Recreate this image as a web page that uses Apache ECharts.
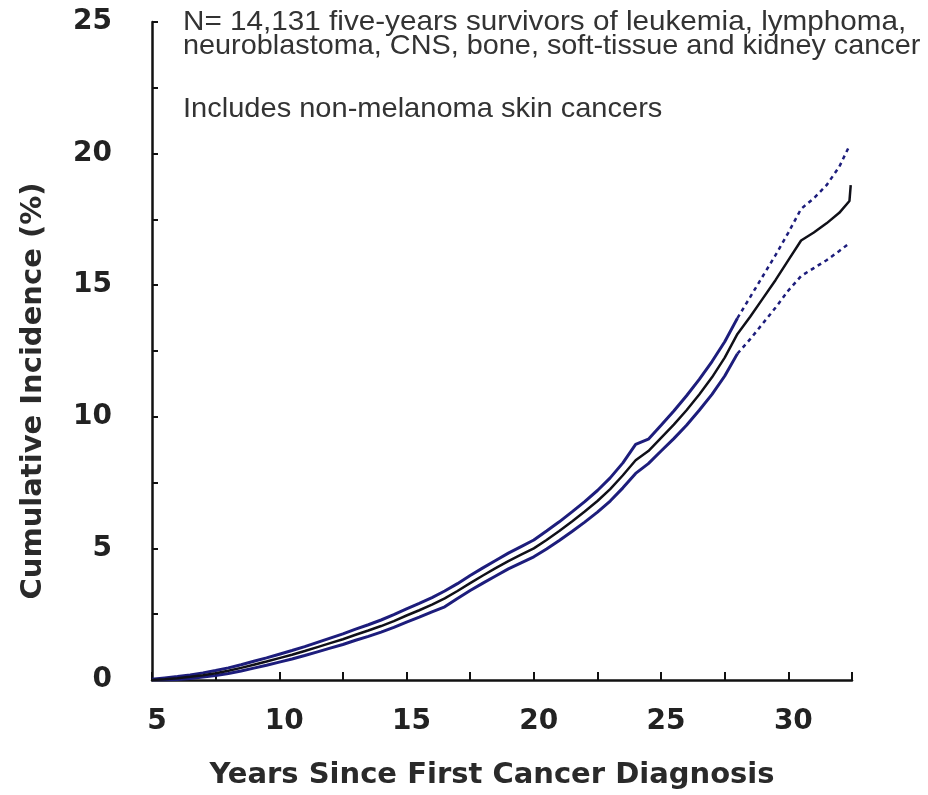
<!DOCTYPE html>
<html>
<head>
<meta charset="utf-8">
<title>Cumulative incidence of second cancers</title>
<script src="https://cdn.jsdelivr.net/npm/echarts@6/dist/echarts.min.js"></script>
<style>
  html, body { margin: 0; padding: 0; background: #ffffff; }
  #chart { width: 928px; height: 795px; }
</style>
</head>
<body>
<div id="chart"></div>
<script>
// Years since first cancer diagnosis
const years = [5, 5.5, 6, 6.5, 7, 7.5, 8, 8.5, 9, 9.5, 10, 10.5, 11, 11.5, 12, 12.5, 13, 13.5, 14, 14.5,
  15, 15.5, 16, 16.5, 17, 17.5, 18, 18.5, 19, 19.5, 20, 20.5, 21, 21.5, 22, 22.5, 23, 23.5, 24, 24.5,
  25, 25.5, 26, 26.5, 27, 27.5, 28, 28.5, 29, 29.5, 30, 30.5, 31, 31.5, 32, 32.4, 32.45];

// Cumulative incidence estimate (%)
const estimate = [0.0, 0.03, 0.07, 0.12, 0.18, 0.26, 0.35, 0.46, 0.58, 0.70, 0.83, 0.96, 1.10, 1.25, 1.40, 1.55, 1.72, 1.88, 2.05, 2.24,
  2.45, 2.65, 2.86, 3.10, 3.38, 3.68, 3.97, 4.25, 4.52, 4.76, 5.00, 5.32, 5.66, 6.02, 6.40, 6.80, 7.25, 7.78, 8.35, 8.70,
  9.20, 9.70, 10.25, 10.85, 11.50, 12.25, 13.15, 13.80, 14.50, 15.20, 15.95, 16.70, 17.00, 17.35, 17.75, 18.20, 18.80];

// Upper 95% confidence limit (%)
const upper = [0.03, 0.08, 0.13, 0.19, 0.27, 0.36, 0.46, 0.58, 0.71, 0.84, 0.98, 1.12, 1.27, 1.43, 1.59, 1.75, 1.93, 2.10, 2.28, 2.48,
  2.70, 2.91, 3.13, 3.38, 3.66, 3.97, 4.26, 4.54, 4.82, 5.07, 5.32, 5.66, 6.01, 6.39, 6.78, 7.20, 7.68, 8.25, 8.95, 9.15,
  9.68, 10.22, 10.80, 11.42, 12.10, 12.85, 13.75, 14.55, 15.35, 16.15, 17.00, 17.90, 18.30, 18.80, 19.50, 20.30, null];

// Lower 95% confidence limit (%)
const lower = [0.0, 0.0, 0.02, 0.06, 0.11, 0.17, 0.25, 0.34, 0.45, 0.56, 0.68, 0.80, 0.93, 1.07, 1.21, 1.35, 1.51, 1.66, 1.82, 2.00,
  2.20, 2.39, 2.59, 2.78, 3.10, 3.40, 3.68, 3.95, 4.22, 4.45, 4.68, 4.98, 5.30, 5.64, 6.00, 6.38, 6.80, 7.30, 7.85, 8.22,
  8.70, 9.17, 9.68, 10.25, 10.85, 11.55, 12.40, 12.95, 13.55, 14.15, 14.80, 15.35, 15.65, 15.95, 16.30, 16.60, null];

// Confidence limits turn dotted from this year on
const dottedFrom = 28;

const xTickStep = 2.5;
const yTickStep = 2.5;

const noteLines = [
  'N= 14,131 five-years survivors of leukemia, lymphoma,',
  'neuroblastoma, CNS, bone, soft-tissue and kidney cancer',
  'Includes non-melanoma skin cancers'
];
const xTitle = 'Years Since First Cancer Diagnosis';
const yTitle = 'Cumulative Incidence (%)';

function pairs(values, from, to) {
  const out = [];
  years.forEach((y, i) => {
    if (values[i] == null) return;
    if (y >= from && y <= to) out.push([y, values[i]]);
  });
  return out;
}

const navy = '#1d1d7c';
const tickLabel = {
  fontFamily: 'DejaVu Sans', fontWeight: 'bold', fontSize: 28, color: '#222222',
  formatter: v => (Math.abs(v % 5) < 1e-9 ? String(v) : '')
};
const noteFont = '28px "Liberation Sans"';

// Note block: one text element per line, slightly widened
function note(text, y, stretch) {
  return { type: 'text', x: 183, y: y, scaleX: stretch,
    style: { text: text, font: noteFont, fill: '#333333', align: 'left', verticalAlign: 'middle' } };
}

const chart = echarts.init(document.getElementById('chart'), null, { renderer: 'canvas' });

chart.setOption({
  backgroundColor: '#ffffff',
  animation: false,
  grid: { left: 152, right: 76, top: 22, bottom: 115, containLabel: false },
  xAxis: {
    type: 'value', min: 5, max: 32.5, interval: xTickStep,
    axisLine: { show: true, lineStyle: { color: '#111', width: 2.5 } },
    axisTick: { show: true, inside: true, length: 8, lineStyle: { color: '#111', width: 2 } },
    axisLabel: Object.assign({ margin: 28, padding: [0, 0, 0, 10] }, tickLabel),
    splitLine: { show: false }
  },
  yAxis: {
    type: 'value', min: 0, max: 25, interval: yTickStep,
    axisLine: { show: true, lineStyle: { color: '#111', width: 2.5 } },
    axisTick: { show: true, inside: true, length: 6, lineStyle: { color: '#111', width: 2 } },
    axisLabel: Object.assign({ margin: 40 }, tickLabel),
    splitLine: { show: false }
  },
  series: [
    { type: 'line', data: pairs(upper, 0, dottedFrom), showSymbol: false, z: 2,
      lineStyle: { color: navy, width: 3 } },
    { type: 'line', data: pairs(upper, dottedFrom, 99), showSymbol: false, z: 2,
      lineStyle: { color: navy, width: 2.5, type: [4, 4] } },
    { type: 'line', data: pairs(lower, 0, dottedFrom), showSymbol: false, z: 2,
      lineStyle: { color: navy, width: 3 } },
    { type: 'line', data: pairs(lower, dottedFrom, 99), showSymbol: false, z: 2,
      lineStyle: { color: navy, width: 2.5, type: [4, 4] } },
    { type: 'line', data: pairs(estimate, 0, 99), showSymbol: false, z: 3,
      lineStyle: { color: '#101018', width: 2.5 } }
  ],
  graphic: [
    note(noteLines[0], 22, 1.06),
    note(noteLines[1], 46, 1.03),
    note(noteLines[2], 109, 1.037),
    { type: 'text', x: 492, y: 775, style: { text: xTitle, font: 'bold 29px "DejaVu Sans"', fill: '#2a2a2a', align: 'center', verticalAlign: 'middle' } },
    { type: 'text', x: 33, y: 391, rotation: Math.PI / 2, style: { text: yTitle, font: 'bold 29px "DejaVu Sans"', fill: '#2a2a2a', align: 'center', verticalAlign: 'middle' } }
  ]
});
</script>
</body>
</html>
